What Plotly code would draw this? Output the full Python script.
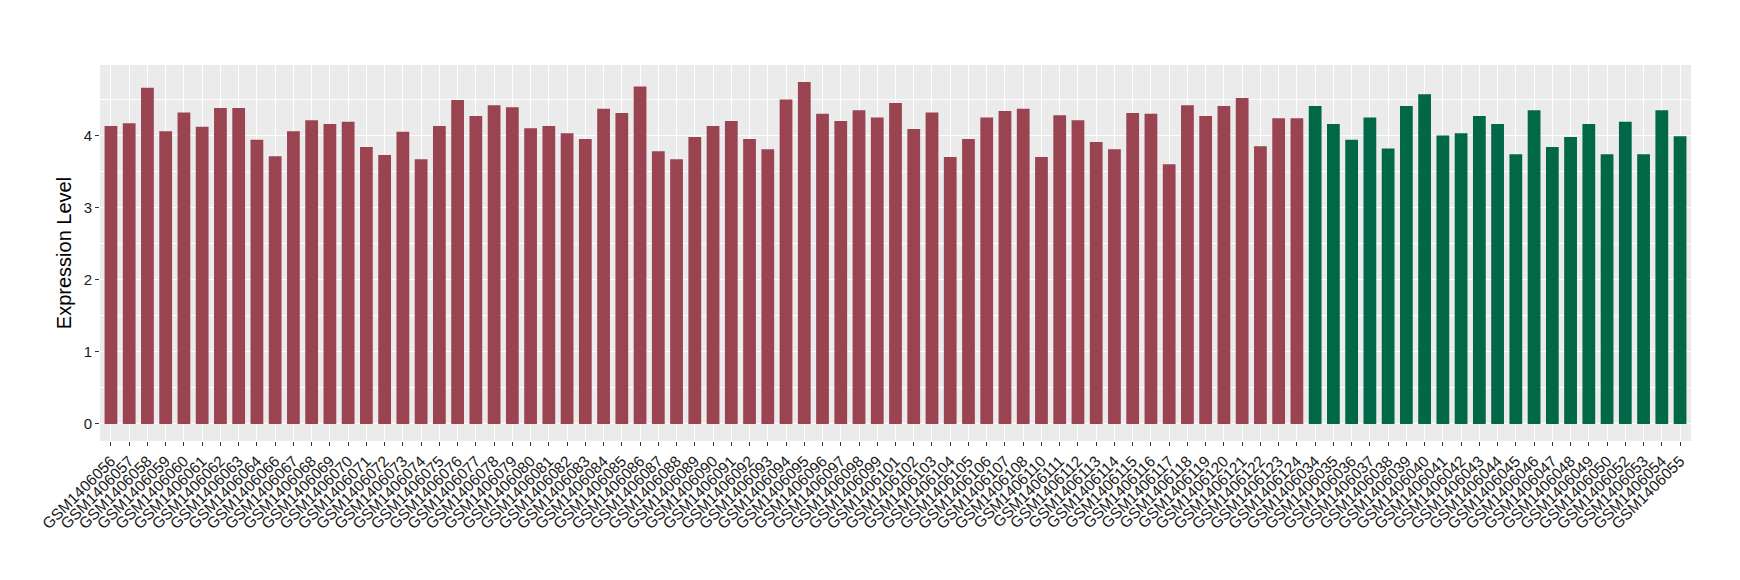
import plotly.graph_objects as go

samples_a = ["GSM1406056", "GSM1406057", "GSM1406058", "GSM1406059", "GSM1406060", "GSM1406061",
             "GSM1406062", "GSM1406063", "GSM1406064", "GSM1406066", "GSM1406067", "GSM1406068",
             "GSM1406069", "GSM1406070", "GSM1406071", "GSM1406072", "GSM1406073", "GSM1406074",
             "GSM1406075", "GSM1406076", "GSM1406077", "GSM1406078", "GSM1406079", "GSM1406080",
             "GSM1406081", "GSM1406082", "GSM1406083", "GSM1406084", "GSM1406085", "GSM1406086",
             "GSM1406087", "GSM1406088", "GSM1406089", "GSM1406090", "GSM1406091", "GSM1406092",
             "GSM1406093", "GSM1406094", "GSM1406095", "GSM1406096", "GSM1406097", "GSM1406098",
             "GSM1406099", "GSM1406101", "GSM1406102", "GSM1406103", "GSM1406104", "GSM1406105",
             "GSM1406106", "GSM1406107", "GSM1406108", "GSM1406110", "GSM1406111", "GSM1406112",
             "GSM1406113", "GSM1406114", "GSM1406115", "GSM1406116", "GSM1406117", "GSM1406118",
             "GSM1406119", "GSM1406120", "GSM1406121", "GSM1406122", "GSM1406123", "GSM1406124"]
values_a = [4.13, 4.17, 4.66, 4.06, 4.32, 4.12, 4.38, 4.38, 3.94, 3.71, 4.06, 4.21,
            4.16, 4.19, 3.84, 3.73, 4.05, 3.67, 4.13, 4.49, 4.27, 4.42, 4.39, 4.10,
            4.13, 4.03, 3.95, 4.37, 4.31, 4.68, 3.78, 3.67, 3.98, 4.13, 4.20, 3.95,
            3.81, 4.50, 4.74, 4.30, 4.20, 4.35, 4.25, 4.45, 4.09, 4.32, 3.70, 3.95,
            4.25, 4.34, 4.37, 3.70, 4.28, 4.21, 3.91, 3.81, 4.31, 4.30, 3.60, 4.42,
            4.27, 4.41, 4.52, 3.85, 4.24, 4.24]

samples_b = ["GSM1406034", "GSM1406035", "GSM1406036", "GSM1406037", "GSM1406038", "GSM1406039",
             "GSM1406040", "GSM1406041", "GSM1406042", "GSM1406043", "GSM1406044", "GSM1406045",
             "GSM1406046", "GSM1406047", "GSM1406048", "GSM1406049", "GSM1406050", "GSM1406052",
             "GSM1406053", "GSM1406054", "GSM1406055"]
values_b = [4.41, 4.16, 3.94, 4.25, 3.82, 4.41, 4.57, 4.00, 4.03, 4.27, 4.16, 3.74,
            4.35, 3.84, 3.98, 4.16, 3.74, 4.19, 3.74, 4.35, 3.99]

color_a = "#9A4452"
color_b = "#006747"

samples = samples_a + samples_b
values = values_a + values_b
colors = [color_a] * len(samples_a) + [color_b] * len(samples_b)

fig = go.Figure()
fig.add_trace(go.Bar(x=samples, y=values, marker=dict(color=colors, line=dict(width=0)),
                     width=0.7, showlegend=False))

font_family = "Liberation Sans, Arial, Helvetica, sans-serif"
vmax = max(values)
fig.update_layout(
    width=1740, height=580,
    margin=dict(l=92, r=57, t=57, b=147, autoexpand=False),
    paper_bgcolor="white", plot_bgcolor="#EBEBEB",
    font=dict(family=font_family, color="#1a1a1a"),
    bargap=0.3,
    xaxis=dict(
        type="category", categoryorder="array", categoryarray=samples,
        range=[-0.6, len(samples) - 0.4],
        tickmode="linear", tick0=0, dtick=1,
        tickangle=-45, tickfont=dict(size=15.5, color="#1a1a1a"),
        showgrid=True, gridcolor="white", gridwidth=1.1,
        ticks="outside", ticklen=4, tickcolor="#333333", tickwidth=1,
        showline=False, zeroline=False, automargin=False,
    ),
    yaxis=dict(
        range=[-0.05 * vmax, 1.05 * vmax],
        tickvals=[0, 1, 2, 3, 4], tickfont=dict(size=15, color="#1a1a1a"),
        showgrid=True, gridcolor="white", gridwidth=1.1,
        minor=dict(dtick=0.5, tick0=0, showgrid=True, gridcolor="white", gridwidth=0.5),
        ticks="outside", ticklen=4, tickcolor="#333333", tickwidth=1,
        zeroline=False, showline=False, automargin=False,
        title=dict(text="Expression Level", font=dict(size=20, color="#000000"), standoff=6),
    ),
)

fig.write_html("out.html")
